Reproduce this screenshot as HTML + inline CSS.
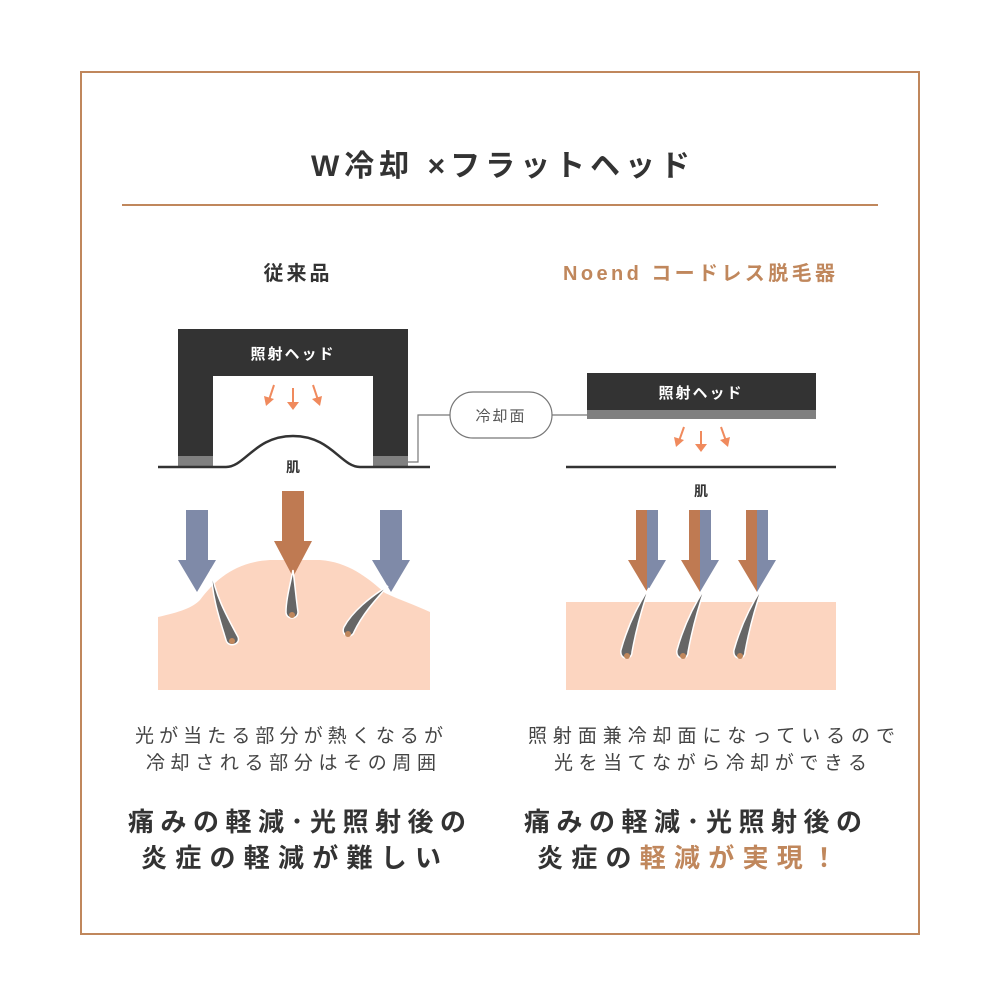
<!DOCTYPE html>
<html><head><meta charset="utf-8"><style>
html,body{margin:0;padding:0;background:#fff}
svg{display:block}
text{font-family:"Liberation Sans","Noto Sans CJK JP",sans-serif}
</style></head><body>
<svg width="1000" height="1000" viewBox="0 0 1000 1000" xmlns="http://www.w3.org/2000/svg">
<rect x="81" y="72" width="838" height="862" fill="none" stroke="#c0875c" stroke-width="2"/>
<text x="311" y="176" font-size="30" font-weight="700" fill="#333" textLength="379" lengthAdjust="spacing">W冷却 ×フラットヘッド</text>
<line x1="122" y1="205" x2="878" y2="205" stroke="#c0875c" stroke-width="2"/>
<text x="298" y="280" font-size="20" font-weight="700" fill="#333" text-anchor="middle" letter-spacing="3">従来品</text>
<text x="563" y="280" font-size="20" font-weight="700" fill="#c0875c" textLength="272" lengthAdjust="spacing">Noend コードレス脱毛器</text>

<path d="M178 329 H408 V465 H373 V376 H213 V465 H178 Z" fill="#333"/>
<rect x="178" y="456" width="35" height="10" fill="#808080"/>
<rect x="373" y="456" width="35" height="10" fill="#808080"/>
<text x="293" y="359" font-size="15" font-weight="700" fill="#fff" text-anchor="middle" letter-spacing="2">照射ヘッド</text>
<g stroke="#f08a5d" stroke-width="2" fill="#f08a5d">
<line x1="293" y1="388" x2="293" y2="404"/><path d="M287 402 L299 402 L293 410 Z" stroke="none"/>
<line x1="274" y1="385" x2="269" y2="400"/><path d="M264 396 L274 399 L266 406 Z" stroke="none"/>
<line x1="313" y1="385" x2="318" y2="400"/><path d="M312 399 L322 396 L320 406 Z" stroke="none"/>
</g>
<path d="M158 467 H226 C245 467 255 436 293 436 C331 436 341 467 360 467 H430" fill="none" stroke="#333" stroke-width="2.5"/>
<text x="293" y="472" font-size="14" font-weight="700" fill="#333" text-anchor="middle">肌</text>

<path d="M408 462 H418 V415 H450 M552 415 H587" fill="none" stroke="#777" stroke-width="1.2"/>
<rect x="450" y="392" width="102" height="46" rx="23" fill="#fff" stroke="#777" stroke-width="1.2"/>
<text x="501" y="421" font-size="15" fill="#555" text-anchor="middle" letter-spacing="2">冷却面</text>

<rect x="587" y="373" width="229" height="38" fill="#333"/>
<rect x="587" y="410" width="229" height="9" fill="#808080"/>
<text x="701" y="398" font-size="15" font-weight="700" fill="#fff" text-anchor="middle" letter-spacing="2">照射ヘッド</text>
<g stroke="#f08a5d" stroke-width="2" fill="#f08a5d">
<line x1="701" y1="431" x2="701" y2="446"/><path d="M695 444 L707 444 L701 452 Z" stroke="none"/>
<line x1="684" y1="427" x2="679" y2="441"/><path d="M674 437 L684 440 L676 447 Z" stroke="none"/>
<line x1="721" y1="427" x2="726" y2="441"/><path d="M720 440 L730 437 L728 447 Z" stroke="none"/>
</g>
<line x1="566" y1="467" x2="836" y2="467" stroke="#333" stroke-width="2.5"/>
<text x="701" y="496" font-size="14" font-weight="700" fill="#333" text-anchor="middle">肌</text>

<path d="M158 617 C180 612 192 608 200 600 C215 580 235 562 270 560 L320 560 C350 562 370 580 385 593 C400 600 415 605 430 612 V690 H158 Z" fill="#fcd5c0"/>
<path d="M186 510 H208 V560 H216 L197 592 L178 560 H186 Z" fill="#7f8aa8"/>
<path d="M380 510 H402 V560 H410 L391 592 L372 560 H380 Z" fill="#7f8aa8"/>
<path d="M282 491 H304 V541 H312 L293 577 L274 541 H282 Z" fill="#bf7a52"/>
<g fill="#666" stroke="#fff" stroke-width="1.5">
<path d="M211 569 C215 595 226 615 238 637 C241 645 228 648 226 640 C220 620 212 598 211 569 Z"/>
<path d="M293 570 C290 585 286 600 286 612 C286 620 298 620 298 612 C296 598 295 585 293 570 Z"/>
<path d="M388 586 C370 597 352 612 344 627 C340 636 352 639 354 632 C362 615 375 600 388 586 Z"/>
</g>
<g fill="#c0875c"><circle cx="232" cy="641" r="3"/><circle cx="292" cy="615" r="3"/><circle cx="348" cy="634" r="3"/></g>

<rect x="566" y="602" width="270" height="88" fill="#fcd5c0"/>
<g>
<path d="M636 510 H647 V592 L628 560 H636 Z" fill="#bf7a52"/>
<path d="M647 510 H658 V560 H666 L647 592 Z" fill="#7f8aa8"/>
<path d="M689 510 H700 V592 L681 560 H689 Z" fill="#bf7a52"/>
<path d="M700 510 H711 V560 H719 L700 592 Z" fill="#7f8aa8"/>
<path d="M746 510 H757 V592 L738 560 H746 Z" fill="#bf7a52"/>
<path d="M757 510 H768 V560 H776 L757 592 Z" fill="#7f8aa8"/>
</g>
<g fill="#666" stroke="#fff" stroke-width="1.5">
<path d="M649 588 C638 605 628 625 621 650 C619 660 632 661 632 652 C636 630 642 608 649 588 Z"/>
<path d="M705 588 C694 605 684 625 677 650 C675 660 688 661 688 652 C692 630 698 608 705 588 Z"/>
<path d="M762 588 C751 605 741 625 734 650 C732 660 745 661 745 652 C749 630 755 608 762 588 Z"/>
</g>
<g fill="#c0875c"><circle cx="627" cy="656" r="3"/><circle cx="683" cy="656" r="3"/><circle cx="740" cy="656" r="3"/></g>

<g font-size="19" fill="#444">
<text x="135" y="742" textLength="308" lengthAdjust="spacing">光が当たる部分が熱くなるが</text>
<text x="146" y="769" textLength="290" lengthAdjust="spacing">冷却される部分はその周囲</text>
<text x="528" y="742" textLength="367" lengthAdjust="spacing">照射面兼冷却面になっているので</text>
<text x="554" y="769" textLength="313" lengthAdjust="spacing">光を当てながら冷却ができる</text>
</g>
<g font-size="26" font-weight="700" fill="#333">
<text x="128" y="831" textLength="338" lengthAdjust="spacing">痛みの軽減･光照射後の</text>
<text x="141" y="867" textLength="300" lengthAdjust="spacing">炎症の軽減が難しい</text>
<text x="524" y="831" textLength="338" lengthAdjust="spacing">痛みの軽減･光照射後の</text>
<text x="537" y="867" textLength="300" lengthAdjust="spacing">炎症の<tspan fill="#c0875c">軽減が実現！</tspan></text>
</g>
</svg>
</body></html>
